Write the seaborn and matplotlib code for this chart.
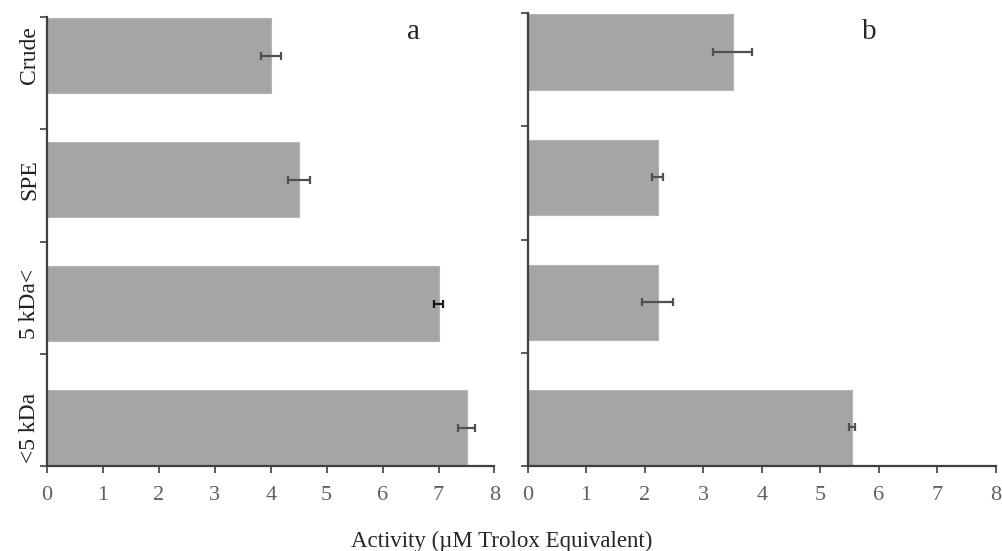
import matplotlib.pyplot as plt
import numpy as np
import pandas as pd
import seaborn as sns

# Data
categories = ['Crude', 'SPE', '5 kDa<', '<5 kDa']
activity_a = [4.0, 4.5, 7.0, 7.5]
error_a = [0.18, 0.2, 0.08, 0.15]
activity_b = [3.5, 2.22, 2.22, 5.54]
error_b = [0.34, 0.1, 0.27, 0.05]
panel_names = ['a', 'b']
x_ticks = [0, 1, 2, 3, 4, 5, 6, 7, 8]

sns.set_style('white')
plt.rcParams['font.family'] = ['Liberation Serif', 'DejaVu Serif']

fig = plt.figure(figsize=(10.03, 5.51), dpi=100)
ax_a = fig.add_axes([0.047, 0.154, 0.446, 0.815])
ax_b = fig.add_axes([0.526, 0.154, 0.467, 0.822])


def draw_panel(ax, values, errors, name, show_labels, label_pos, err_colors):
    df = pd.DataFrame({'category': categories, 'activity': values})
    sns.barplot(data=df, x='activity', y='category', orient='h', color='#a5a5a5',
                saturation=1, width=0.6, edgecolor='#b5b5b5', linewidth=0.8,
                errorbar=None, ax=ax)
    for i, (v, e) in enumerate(zip(values, errors)):
        ax.errorbar(v, i, xerr=e, fmt='none', ecolor=err_colors[i],
                    elinewidth=1.6, capsize=3, capthick=1.6)

    ax.set_xlim(0, 8)
    y_lo, y_hi = -0.31, len(categories) - 1 + 0.31
    ax.set_ylim(y_hi, y_lo)
    ax.set_xticks(x_ticks)
    ax.set_xticklabels([str(t) for t in x_ticks], fontsize=16, color='#606060')

    # category labels at the bars, tick marks split the axis into equal parts
    ax.set_yticks(range(len(categories)))
    if show_labels:
        ax.set_yticklabels(categories, rotation=90, va='center', fontsize=17, color='#202020')
    else:
        ax.set_yticklabels([])
    ax.tick_params(axis='y', which='major', length=0, pad=5)
    ax.set_yticks(np.linspace(y_lo, y_hi, len(categories) + 1), minor=True)
    ax.tick_params(axis='y', which='minor', length=5, width=1.2, color='#404040', left=True)
    ax.tick_params(axis='x', length=5, width=1.2, color='#404040', bottom=True, pad=9)

    ax.set_xlabel('')
    ax.set_ylabel('')
    sns.despine(ax=ax)
    for side in ['left', 'bottom']:
        ax.spines[side].set_color('#404040')
        ax.spines[side].set_linewidth(1.6)

    ax.text(label_pos[0], label_pos[1], name, transform=ax.transAxes,
            fontsize=21, ha='center', va='center')


draw_panel(ax_a, activity_a, error_a, panel_names[0], True, (0.82, 0.967),
           ['#505050', '#505050', '#151515', '#505050'])
draw_panel(ax_b, activity_b, error_b, panel_names[1], False, (0.73, 0.958),
           ['#505050'] * 4)
fig.text(0.5, 0.018, 'Activity (µM Trolox Equivalent)', ha='center', va='center', fontsize=16.5)

fig.savefig('out.png', dpi=100)
